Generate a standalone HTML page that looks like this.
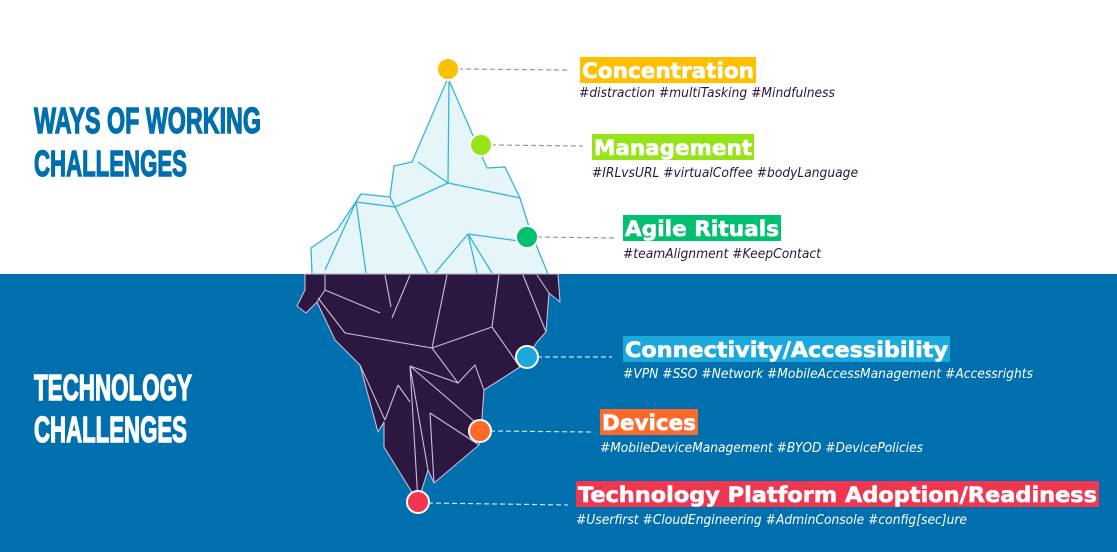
<!DOCTYPE html>
<html><head><meta charset="utf-8"><style>
html,body{margin:0;padding:0;width:1117px;height:552px;overflow:hidden;background:#fff}
svg{display:block}
.h{font-family:"Liberation Sans Narrow","Liberation Sans",sans-serif;font-weight:bold;font-size:36px;stroke-width:1.4px}
.l{font-family:"DejaVu Sans","Liberation Sans",sans-serif;font-weight:bold;font-size:21px;fill:#fff;stroke:#fff;stroke-width:0.6px}
.t{font-family:"DejaVu Sans","Liberation Sans",sans-serif;font-style:italic;font-size:13px}
</style></head><body>
<svg width="1117" height="552" viewBox="0 0 1117 552">
<rect x="0" y="274" width="1117" height="278" fill="#006FAD"/>
<polygon points="448,78 412,162 394,166 390,197 361,194 337,230 311,248 312,274 548,274 530,230 520,198 505,167 487,168" fill="#E6F6F8" stroke="#35B4DD" stroke-width="1.3" stroke-linejoin="round"/>
<g stroke="#35B4DD" stroke-width="1.3" fill="none">
<path d="M449,82 L448,183 M448,183 L418,162 M448,183 L520,198 M448,183 L395,207 M390,197 L395,207 L428,273 M356,202 L395,207 M361,194 L356,202 L366,273 M356,202 L325,270 M468,234 L435,273 M468,234 L526,242 M468,234 L477,273 M468,234 L492,273"/>
</g>
<polygon points="305,274 305,290 297,306 306,313 317,302 335,340 360,365 378,432 384,422 384,447 418,502 428,470 434,483 479,445 481,432 484,390 520,367 527,357 537,342 546,332 549,293 560,302 558,274" fill="#2C1740" stroke="#C9BEDB" stroke-width="1.1" stroke-linejoin="round"/>
<g stroke="#C9BEDB" stroke-width="1.1" fill="none">
<path d="M325,275 L325,290 L380,313 M318,298 L345,333 L432,348 L447,275 M432,348 L492,327 L499,275 M492,327 L520,367 M546,332 L523,275 M537,275 L549,293 M385,275 L391,307 M410,275 L392,318 M432,348 L458,383 L475,365 L484,390 M410,366 L458,383 M410,366 L475,422 M410,366 L418,502 M410,366 L428,470 M430,413 L434,483 M430,413 L479,445 M360,365 L385,420 M398,385 L385,420 M398,385 L410,402 M325,290 L317,302"/>
</g>
<g stroke-width="1.2" stroke-dasharray="5,3" fill="none">
<line x1="458" y1="69" x2="568" y2="70" stroke="#999"/>
<line x1="491" y1="145" x2="583" y2="146" stroke="#999"/>
<line x1="537" y1="237" x2="617" y2="238" stroke="#999"/>
<line x1="537" y1="357" x2="612" y2="357" stroke="#cfe3f0"/>
<line x1="490" y1="431" x2="592" y2="432" stroke="#cfe3f0"/>
<line x1="428" y1="503" x2="568" y2="505" stroke="#cfe3f0"/>
</g>
<g stroke="#fff" stroke-width="2">
<circle cx="448" cy="69" r="11" fill="#FFC000"/>
<circle cx="481" cy="145" r="11" fill="#96E317"/>
<circle cx="527" cy="237" r="11" fill="#00C06F"/>
<circle cx="527" cy="357" r="11" fill="#1BA9DB"/>
<circle cx="480" cy="431" r="11" fill="#FF6A2B"/>
<circle cx="418" cy="502" r="11" fill="#F03752"/>
</g>
<text class="h" x="34" y="133" fill="#006FAD" stroke="#006FAD" textLength="227" lengthAdjust="spacingAndGlyphs">WAYS OF WORKING</text>
<text class="h" x="34" y="176" fill="#006FAD" stroke="#006FAD" textLength="153" lengthAdjust="spacingAndGlyphs">CHALLENGES</text>
<text class="h" x="34" y="400" fill="#fff" stroke="#fff" textLength="158" lengthAdjust="spacingAndGlyphs">TECHNOLOGY</text>
<text class="h" x="34" y="442" fill="#fff" stroke="#fff" textLength="153" lengthAdjust="spacingAndGlyphs">CHALLENGES</text>

<rect x="580" y="57" width="176" height="26" fill="#FFC000"/>
<text class="l" x="582" y="78" textLength="172" lengthAdjust="spacingAndGlyphs">Concentration</text>
<text class="t" x="579" y="97" fill="#2C1740" textLength="256" lengthAdjust="spacingAndGlyphs">#distraction #multiTasking #Mindfulness</text>

<rect x="592" y="134" width="162" height="26" fill="#96E317"/>
<text class="l" x="594" y="155" textLength="158" lengthAdjust="spacingAndGlyphs">Management</text>
<text class="t" x="592" y="177" fill="#2C1740" textLength="266" lengthAdjust="spacingAndGlyphs">#IRLvsURL #virtualCoffee #bodyLanguage</text>

<rect x="623" y="215" width="158" height="26" fill="#00C06F"/>
<text class="l" x="625" y="236" textLength="154" lengthAdjust="spacingAndGlyphs">Agile Rituals</text>
<text class="t" x="623" y="258" fill="#2C1740" textLength="198" lengthAdjust="spacingAndGlyphs">#teamAlignment #KeepContact</text>

<rect x="623" y="336" width="327" height="26" fill="#1BA9DB"/>
<text class="l" x="625" y="357" textLength="323" lengthAdjust="spacingAndGlyphs">Connectivity/Accessibility</text>
<text class="t" x="623" y="378" fill="#fff" textLength="410" lengthAdjust="spacingAndGlyphs">#VPN #SSO #Network #MobileAccessManagement #Accessrights</text>

<rect x="600" y="409" width="98" height="26" fill="#FF6A2B"/>
<text class="l" x="602" y="430" textLength="94" lengthAdjust="spacingAndGlyphs">Devices</text>
<text class="t" x="600" y="452" fill="#fff" textLength="323" lengthAdjust="spacingAndGlyphs">#MobileDeviceManagement #BYOD #DevicePolicies</text>

<rect x="576" y="481" width="523" height="26" fill="#F03752"/>
<text class="l" x="578" y="502" textLength="519" lengthAdjust="spacingAndGlyphs">Technology Platform Adoption/Readiness</text>
<text class="t" x="576" y="524" fill="#fff" textLength="391" lengthAdjust="spacingAndGlyphs">#Userfirst #CloudEngineering #AdminConsole #config[sec]ure</text>
</svg>
</body></html>
